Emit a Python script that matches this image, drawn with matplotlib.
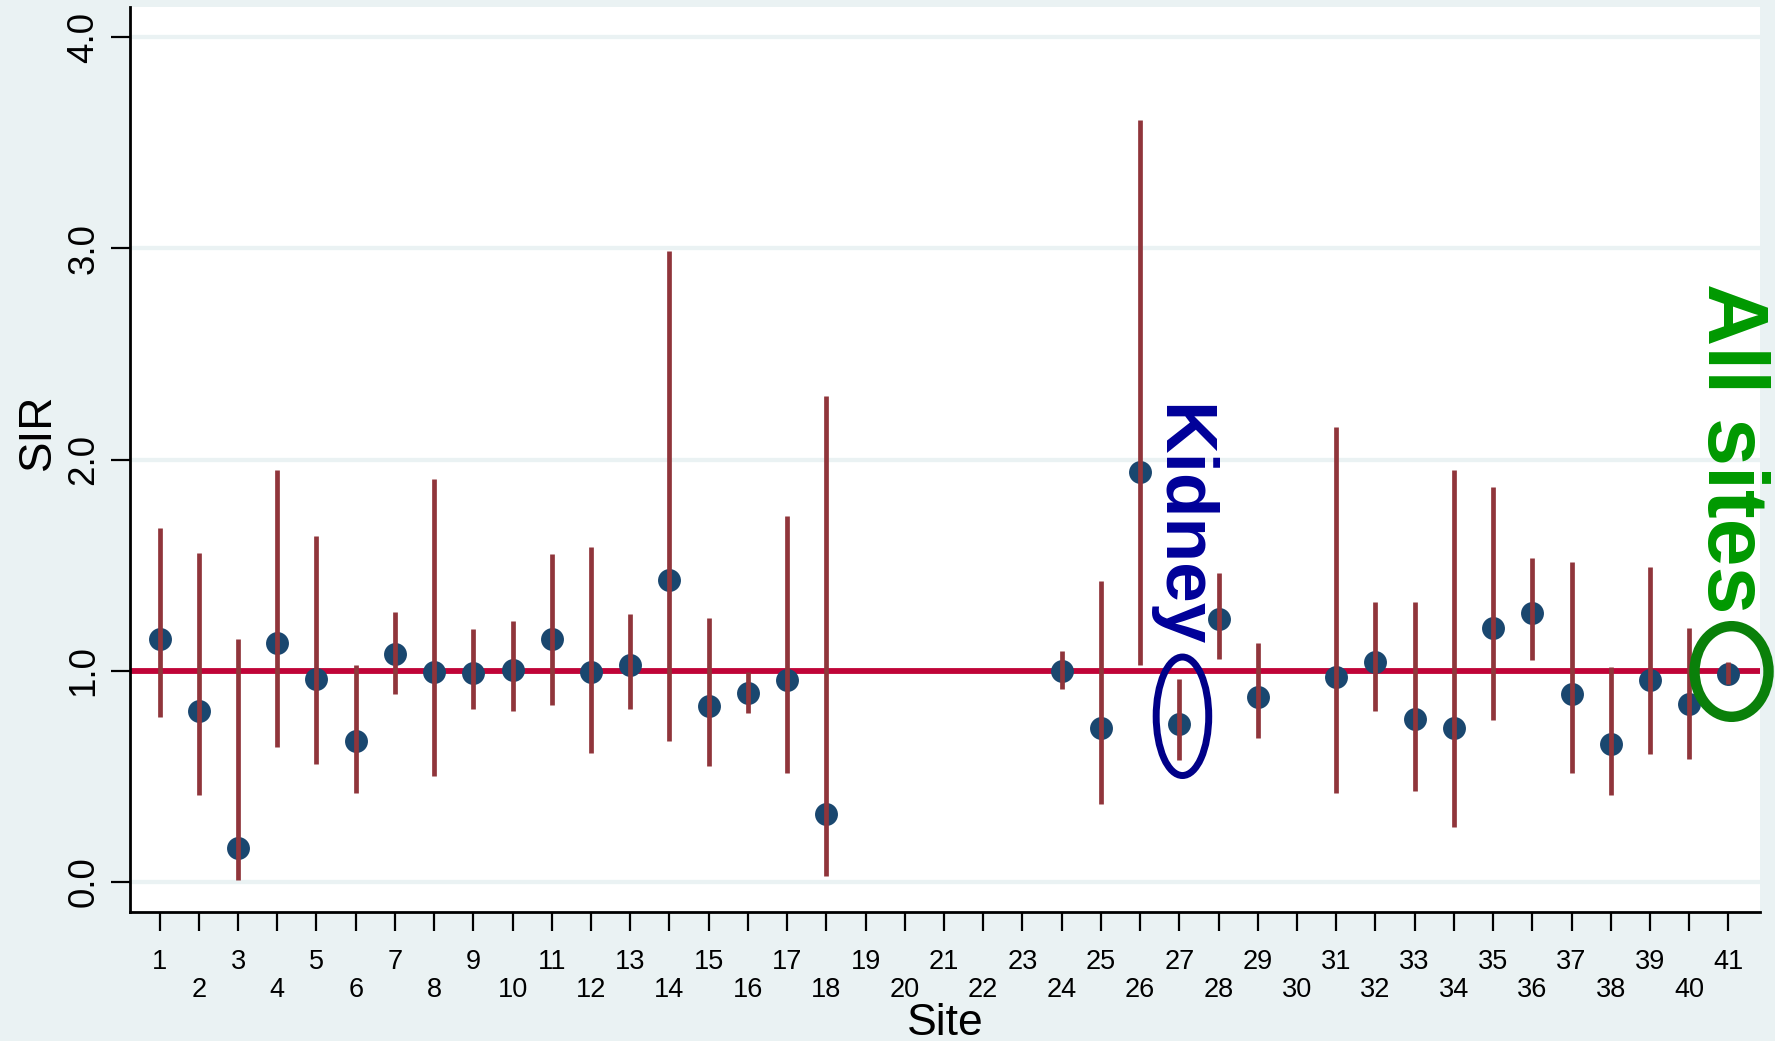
import matplotlib
matplotlib.use("Agg")
import matplotlib.pyplot as plt
from matplotlib.patches import Ellipse
import numpy as np

# ---- data ----
sites = [1, 2, 3, 4, 5, 6, 7, 8, 9, 10, 11, 12, 13, 14, 15, 16, 17, 18,
         24, 25, 26, 27, 28, 29, 31, 32, 33, 34, 35, 36, 37, 38, 39, 40, 41]
sir = [1.15, 0.81, 0.16, 1.13, 0.96, 0.67, 1.08, 0.995, 0.99, 1.005, 1.15, 0.995,
       1.03, 1.43, 0.835, 0.895, 0.955, 0.32,
       1.0, 0.73, 1.94, 0.75, 1.245, 0.875, 0.97, 1.04, 0.77, 0.73, 1.205, 1.275,
       0.89, 0.655, 0.955, 0.845, 0.985]
ci_low = [0.78, 0.41, 0.01, 0.64, 0.56, 0.42, 0.89, 0.50, 0.82, 0.81, 0.84, 0.61,
          0.82, 0.67, 0.55, 0.80, 0.515, 0.03,
          0.915, 0.37, 1.03, 0.58, 1.055, 0.68, 0.42, 0.81, 0.43, 0.26, 0.765, 1.05,
          0.515, 0.41, 0.605, 0.585, 0.94]
ci_high = [1.675, 1.56, 1.15, 1.95, 1.64, 1.03, 1.28, 1.91, 1.20, 1.235, 1.555, 1.585,
           1.27, 2.99, 1.25, 0.995, 1.735, 2.30,
           1.095, 1.425, 3.61, 0.96, 1.465, 1.13, 2.155, 1.325, 1.325, 1.95, 1.87, 1.535,
           1.515, 1.02, 1.49, 1.205, 1.04]
tick_sites = list(range(1, 42))
y_ticks = [0.0, 1.0, 2.0, 3.0, 4.0]
y_ticklabels = ["0.0", "1.0", "2.0", "3.0", "4.0"]
reference_value = 1.0

# ---- style ----
bg = "#EAF2F3"
navy = "#1A476F"
maroon = "#90353B"
refred = "#C00438"

plt.rcParams['font.family'] = ['Liberation Sans', 'DejaVu Sans']

fig = plt.figure(figsize=(17.75, 10.41), dpi=100)
fig.patch.set_facecolor(bg)
ax = fig.add_axes([0.07324, 0.12344, 0.91831, 0.86984])
ax.set_facecolor("white")

ax.set_xlim(0.245, 41.806)
ax.set_ylim(-0.144, 4.143)

for s in ["top", "right"]:
    ax.spines[s].set_visible(False)
for s in ["left", "bottom"]:
    ax.spines[s].set_linewidth(2)
    ax.spines[s].set_color("black")

# gridlines
for yv in y_ticks:
    ax.axhline(yv, color=bg, lw=3.1, zorder=0.5)

# reference line
ax.axhline(reference_value, color=refred, lw=4.2, zorder=1)

# points
ax.plot(sites, sir, linestyle="none", marker="o", ms=16.5, color=navy,
        markeredgewidth=0, zorder=2)
# CIs
ax.vlines(sites, ci_low, ci_high, color=maroon, lw=3.4, zorder=3)

# ticks
odd = [t for t in tick_sites if t % 2 == 1]
even = [t for t in tick_sites if t % 2 == 0]
ax.set_xticks(odd)
ax.set_xticklabels([str(t) for t in odd])
ax.set_xticks(even, minor=True)
ax.set_xticklabels([str(t) for t in even], minor=True)
ax.tick_params(axis="x", which="both", length=14, width=1.6, direction="out",
               labelsize=19.5)
ax.tick_params(axis="x", which="major", pad=12.5)
ax.tick_params(axis="x", which="minor", pad=32.5)

ax.set_yticks(y_ticks)
ax.set_yticklabels(y_ticklabels, rotation=90, va="center")
ax.tick_params(axis="y", length=14, width=1.6, labelsize=26.5, pad=6.5)

# axis titles
fig.text(945 / 1775, 6 / 1041, "Site", fontsize=32, ha="center", va="baseline")
fig.text(50 / 1775, (1041 - 432) / 1041, "SIR", fontsize=33, rotation=90,
         rotation_mode="anchor", ha="center", va="baseline")

# annotations
ax.text(26.53, 2.262, "Kidney", rotation=-90, rotation_mode="anchor",
        ha="left", va="baseline", fontsize=52.5, fontweight="bold",
        color="#000099", zorder=5)
ax.add_patch(Ellipse((27.08, 0.785), 1.34, 0.561, fill=False,
                     edgecolor="#000088", lw=5, zorder=6))

ax.text(40.48, 2.836, "All sites", rotation=-90, rotation_mode="anchor",
        ha="left", va="baseline", fontsize=62, fontweight="bold",
        color="#009900", zorder=5, clip_on=False)
e2 = Ellipse((41.08, 0.997), 1.887, 0.429, fill=False,
             edgecolor="#0A800A", lw=7.5, zorder=6)
e2.set_clip_on(False)
ax.add_patch(e2)

fig.savefig("out.png", dpi=100, facecolor=bg)
